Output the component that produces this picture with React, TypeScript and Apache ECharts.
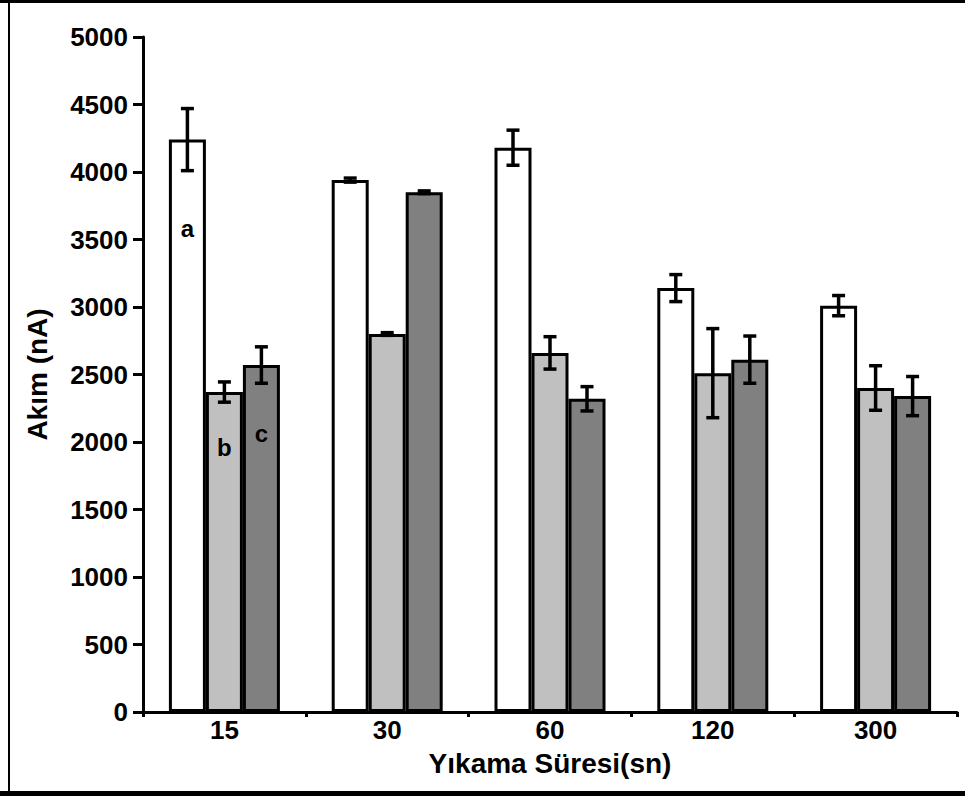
import React, { useEffect, useRef } from "react";
import * as echarts from "echarts";

const categories = ["15", "30", "60", "120", "300"];
const whiteVals = [4240, 3940, 4180, 3140, 3010];
const whiteErr = [230, 15, 130, 100, 75];
const lightVals = [2370, 2800, 2660, 2510, 2400];
const lightErr = [75, 10, 120, 330, 165];
const darkVals = [2570, 3850, 2320, 2610, 2340];
const darkErr = [135, 10, 90, 175, 145];
const yTicks = { min: 0, max: 5000, interval: 500 };
// letters inside the first group's bars: [category index, series index, y value, text]
const letters: [number, number, number, string][] = [
  [0, 0, 3580, "a"],
  [0, 1, 1960, "b"],
  [0, 2, 2065, "c"],
];

const FONT = "'Liberation Sans', Arial, sans-serif";
const BAR_W = 37;
const STEP = 37;

export default function App() {
  const ref = useRef<HTMLDivElement>(null);
  useEffect(() => {
    if (!ref.current) return;
    const chart = echarts.init(ref.current, undefined, { renderer: "svg" });
    const errSeries = (vals: number[], errs: number[], k: number) => ({
      type: "custom",
      z: 5,
      data: vals.map((v, i) => [i, v - errs[i], v + errs[i]]),
      encode: { x: 0, y: [1, 2] },
      renderItem: (params: any, api: any) => {
        const idx = api.value(0);
        const lo = api.coord([idx, api.value(1)]);
        const hi = api.coord([idx, api.value(2)]);
        const x = lo[0] + (k - 1) * STEP;
        const cap = 6.5;
        const st = { stroke: "#000", lineWidth: 3.5 };
        return {
          type: "group",
          children: [
            { type: "line", shape: { x1: x, y1: lo[1], x2: x, y2: hi[1] }, style: st },
            { type: "line", shape: { x1: x - cap, y1: lo[1], x2: x + cap, y2: lo[1] }, style: st },
            { type: "line", shape: { x1: x - cap, y1: hi[1], x2: x + cap, y2: hi[1] }, style: st },
          ],
        };
      },
    });
    const barStyle = (color: string) => ({
      color,
      borderColor: "#000",
      borderWidth: 3,
    });
    chart.setOption({
      animation: false,
      backgroundColor: "#fff",
      grid: { left: 143, right: 8, top: 37, bottom: 84 },
      xAxis: {
        type: "category",
        data: categories,
        name: "Yıkama Süresi(sn)",
        nameLocation: "middle",
        nameGap: 37,
        nameTextStyle: { fontFamily: FONT, fontWeight: "bold", fontSize: 28, color: "#000" },
        axisLine: { lineStyle: { color: "#000", width: 3 } },
        axisTick: { show: true, length: 5, lineStyle: { color: "#000", width: 3 } },
        axisLabel: { margin: 5, fontFamily: FONT, fontWeight: "bold", fontSize: 26, color: "#000" },
      },
      yAxis: {
        type: "value",
        min: yTicks.min,
        max: yTicks.max,
        interval: yTicks.interval,
        name: "Akım (nA)",
        nameLocation: "middle",
        nameGap: 92,
        nameTextStyle: { fontFamily: FONT, fontWeight: "bold", fontSize: 28, color: "#000" },
        axisLine: { show: true, lineStyle: { color: "#000", width: 3 } },
        axisTick: { show: true, length: 10, lineStyle: { color: "#000", width: 3 } },
        axisLabel: {
          margin: 15,
          fontFamily: FONT,
          fontWeight: "bold",
          fontSize: 26,
          color: "#000",
          formatter: (v: number) => String(v),
        },
        splitLine: { show: false },
      },
      series: [
        { type: "bar", data: whiteVals, barWidth: BAR_W, barGap: "0%", itemStyle: barStyle("#ffffff") },
        { type: "bar", data: lightVals, barWidth: BAR_W, barGap: "0%", itemStyle: barStyle("#c0c0c0") },
        { type: "bar", data: darkVals, barWidth: BAR_W, barGap: "0%", itemStyle: barStyle("#808080") },
        errSeries(whiteVals, whiteErr, 0),
        errSeries(lightVals, lightErr, 1),
        errSeries(darkVals, darkErr, 2),
        {
          type: "custom",
          z: 6,
          data: letters.map((l) => [l[0], l[2], l[1], l[3]]),
          encode: { x: 0, y: 1 },
          renderItem: (params: any, api: any) => {
            const p = api.coord([api.value(0), api.value(1)]);
            const k = api.value(2);
            return {
              type: "text",
              x: p[0] + (k - 1) * STEP,
              y: p[1],
              style: {
                text: letters[params.dataIndex][3],
                fill: "#000",
                font: `bold 24px ${FONT}`,
                align: "center",
                verticalAlign: "middle",
              },
            };
          },
        },
      ],
      graphic: [
        { type: "rect", shape: { x: 0, y: 0, width: 965, height: 3 }, style: { fill: "#000" } },
        { type: "rect", shape: { x: 8, y: 0, width: 2, height: 796 }, style: { fill: "#000" } },
        { type: "rect", shape: { x: 0, y: 791, width: 965, height: 5 }, style: { fill: "#000" } },
      ],
    });
    return () => chart.dispose();
  }, []);
  return (
    <div
      ref={ref}
      style={{ position: "fixed", left: 0, top: 0, width: 965, height: 796, background: "#fff" }}
    />
  );
}
